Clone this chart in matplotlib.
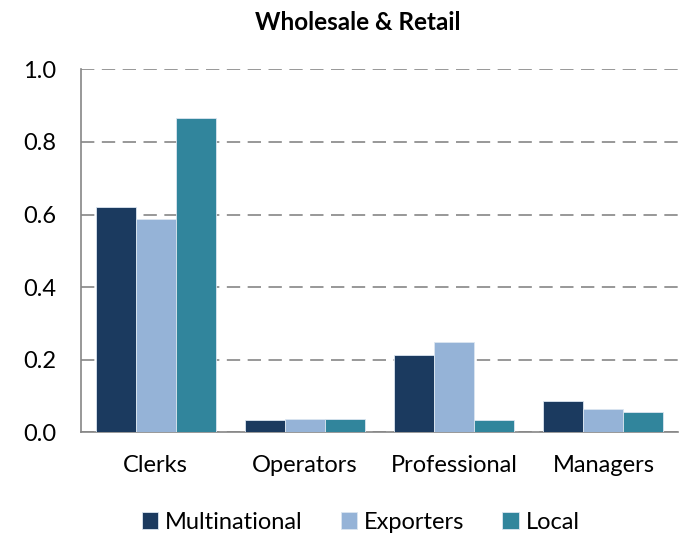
import matplotlib
matplotlib.use("Agg")
import matplotlib.pyplot as plt
import numpy as np

categories = ["Clerks", "Operators", "Professional", "Managers"]
series = ["Multinational", "Exporters", "Local"]
multinational = [0.621, 0.033, 0.213, 0.085]
exporters = [0.589, 0.037, 0.249, 0.063]
local = [0.865, 0.037, 0.033, 0.055]
colors = ["#1b3a5f", "#95b3d7", "#31859c"]

plt.rcParams['font.family'] = ['Lato', 'DejaVu Sans']

fig = plt.figure(figsize=(6.94, 5.38), dpi=100)
ax = fig.add_axes([0.1167, 0.1965, 0.977 - 0.1167, 0.871 - 0.1965])

x = np.arange(len(categories))
w = 0.268
for i, (vals, name) in enumerate(zip([multinational, exporters, local], series)):
    ax.bar(x + (i - 1) * w, vals, width=w, color=colors[i], label=name,
           edgecolor="#dce6f0", linewidth=0.6, zorder=3)

ax.set_xlim(-0.5, 3.5)
ax.set_ylim(0, 1.0)
ax.set_yticks(np.arange(0, 1.01, 0.2))
ax.set_yticklabels([f"{v:.1f}" for v in np.arange(0, 1.01, 0.2)])
ax.set_xticks(x)
ax.set_xticklabels(categories)
ax.yaxis.grid(True, linestyle=(0, (8, 4.5)), color="#868686", linewidth=1.2, zorder=0)
for s in ["top", "right"]:
    ax.spines[s].set_visible(False)
for s in ["left", "bottom"]:
    ax.spines[s].set_color("#868686")
    ax.spines[s].set_linewidth(1.2)
ax.tick_params(axis="y", length=0, labelsize=17, colors="black", pad=18)
ax.tick_params(axis="x", length=0, labelsize=17, colors="black", pad=16)

fig.suptitle("Wholesale & Retail", fontsize=17.5, fontweight="bold", x=0.515, y=0.98)
fig.legend(loc="center", bbox_to_anchor=(0.52, 0.029), ncol=3, frameon=False,
           fontsize=17, handlelength=0.7, handleheight=0.7, handletextpad=0.3,
           columnspacing=1.6)

fig.savefig("out.png", dpi=100)
